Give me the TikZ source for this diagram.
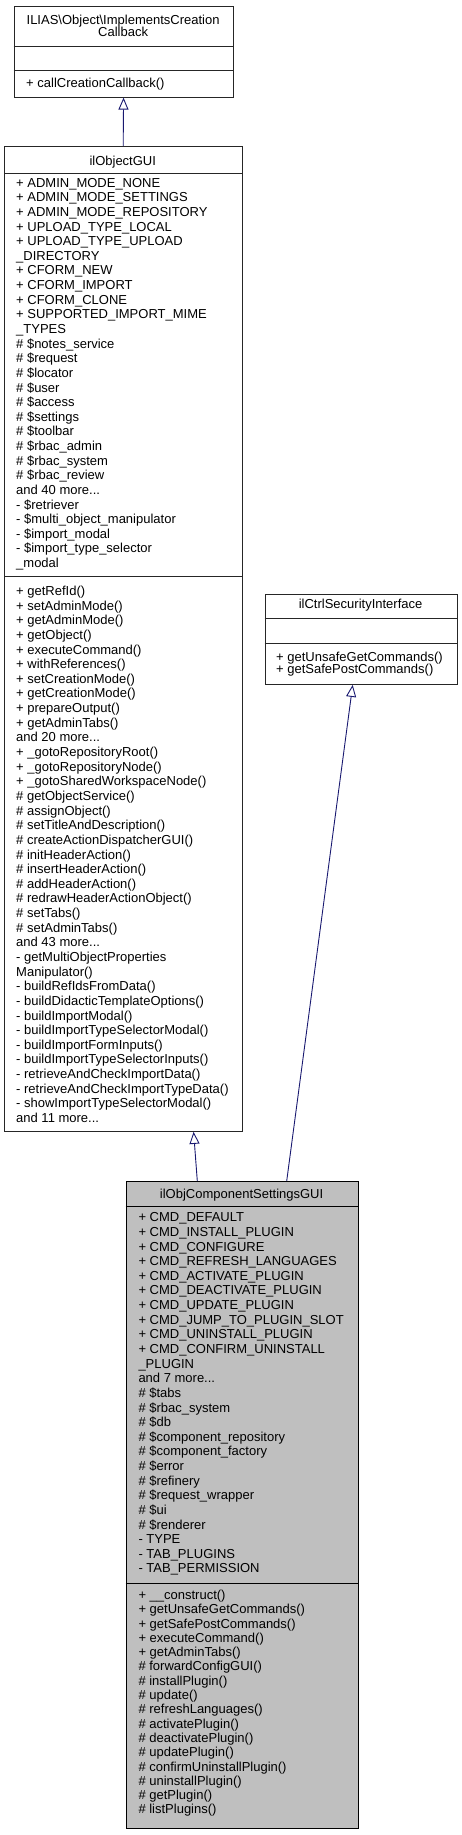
\documentclass[tikz,border=0pt]{standalone}
\usepackage{fontspec}
\setmainfont{Liberation Sans}
\usetikzlibrary{arrows.meta}
\definecolor{edgeblue}{HTML}{191970}
\definecolor{curfill}{HTML}{BFBFBF}
\tikzset{
  x=1pt, y=-1pt,
  classbox/.style={draw=black!85, line width=0.9pt, fill=white, inner sep=0pt, anchor=north west},
  sepline/.style={draw=black!85, line width=0.9pt},
  txt/.style={anchor=base west, inner sep=0pt, font=\fontsize{13}{15}\selectfont},
  ttl/.style={anchor=base, inner sep=0pt, font=\fontsize{13}{15}\selectfont},
  inh/.style={draw=edgeblue, line width=0.9pt, -{Triangle[open, length=12pt, width=10pt, fill=white]}},
}
\newcommand\textlines[5]{%
  \foreach \t [count=\i from 0] in {#5} {\node[txt] (#1-\i) at (#2,{#3+\i*#4}) {\t};}}
\newcommand\more[1]{and #1 more.\kern0pt.\kern0pt.}
\begin{document}
\begin{tikzpicture}
\useasboundingbox (0,0) rectangle (461,1835);

% ---------- ILIAS\Object\ImplementsCreationCallback ----------
\node[classbox, minimum width=219.2pt, minimum height=90.7pt] (A) at (13.5,6) {};
\node[ttl] (A-t1) at (123.1,24.5) {ILIAS\textbackslash Object\textbackslash ImplementsCreation};
\node[ttl] (A-t2) at (123.1,36.8) {Callback};
\draw[sepline] (A.west |- 0,46.7) -- (A.east |- 0,46.7);
\draw[sepline] (A.west |- 0,70.7) -- (A.east |- 0,70.7);
\node[txt] (A-m) at (26,87.8) {+ callCreationCallback()};

% ---------- ilObjectGUI ----------
\node[classbox, minimum width=237.5pt, minimum height=985pt] (obj) at (4,146) {};
\node[ttl] (obj-t) at (122.75,165.2) {ilObjectGUI};
\draw[sepline] (obj.west |- 0,173) -- (obj.east |- 0,173);
\draw[sepline] (obj.west |- 0,576.7) -- (obj.east |- 0,576.7);
\textlines{obja}{16}{187.2}{14.63}{
+ ADMIN\_MODE\_NONE,
+ ADMIN\_MODE\_SETTINGS,
+ ADMIN\_MODE\_REPOSITORY,
+ UPLOAD\_TYPE\_LOCAL,
+ UPLOAD\_TYPE\_UPLOAD,
\_DIRECTORY,
+ CFORM\_NEW,
+ CFORM\_IMPORT,
+ CFORM\_CLONE,
+ SUPPORTED\_IMPORT\_MIME,
\_TYPES,
\# \$notes\_service,
\# \$request,
\# \$locator,
\# \$user,
\# \$access,
\# \$settings,
\# \$toolbar,
\# \$rbac\_admin,
\# \$rbac\_system,
\# \$rbac\_review,
\more{40},
- \$retriever,
- \$multi\_object\_manipulator,
- \$import\_modal,
- \$import\_type\_selector,
\_modal}
\textlines{objm}{16}{595.5}{14.64}{
+ getRefId(),
+ setAdminMode(),
+ getAdminMode(),
+ getObject(),
+ executeCommand(),
+ withReferences(),
+ setCreationMode(),
+ getCreationMode(),
+ prepareOutput(),
+ getAdminTabs(),
\more{20},
+ \_gotoRepositoryRoot(),
+ \_gotoRepositoryNode(),
+ \_gotoSharedWorkspaceNode(),
\# getObjectService(),
\# assignObject(),
\# setTitleAndDescription(),
\# createActionDispatcherGUI(),
\# initHeaderAction(),
\# insertHeaderAction(),
\# addHeaderAction(),
\# redrawHeaderActionObject(),
\# setTabs(),
\# setAdminTabs(),
\more{43},
- getMultiObjectProperties,
Manipulator(),
- buildRefIdsFromData(),
- buildDidacticTemplateOptions(),
- buildImportModal(),
- buildImportTypeSelectorModal(),
- buildImportFormInputs(),
- buildImportTypeSelectorInputs(),
- retrieveAndCheckImportData(),
- retrieveAndCheckImportTypeData(),
- showImportTypeSelectorModal(),
\more{11}}

% ---------- ilCtrlSecurityInterface ----------
\node[classbox, minimum width=192.2pt, minimum height=90pt] (ctrl) at (264.5,594) {};
\node[ttl] (ctrl-t) at (360.6,608.5) {ilCtrlSecurityInterface};
\draw[sepline] (ctrl.west |- 0,618.3) -- (ctrl.east |- 0,618.3);
\draw[sepline] (ctrl.west |- 0,643.3) -- (ctrl.east |- 0,643.3);
\textlines{ctrlm}{276}{661.2}{12.6}{
+ getUnsafeGetCommands(),
+ getSafePostCommands()}

% ---------- ilObjComponentSettingsGUI ----------
\node[classbox, fill=curfill, draw=black, minimum width=232.2pt, minimum height=647pt] (ocs) at (125.5,1181) {};
\node[ttl] (ocs-t) at (241.6,1198.5) {ilObjComponentSettingsGUI};
\draw[sepline, draw=black] (ocs.west |- 0,1206) -- (ocs.east |- 0,1206);
\draw[sepline, draw=black] (ocs.west |- 0,1583) -- (ocs.east |- 0,1583);
\textlines{ocsa}{138.3}{1221.8}{14.63}{
+ CMD\_DEFAULT,
+ CMD\_INSTALL\_PLUGIN,
+ CMD\_CONFIGURE,
+ CMD\_REFRESH\_LANGUAGES,
+ CMD\_ACTIVATE\_PLUGIN,
+ CMD\_DEACTIVATE\_PLUGIN,
+ CMD\_UPDATE\_PLUGIN,
+ CMD\_JUMP\_TO\_PLUGIN\_SLOT,
+ CMD\_UNINSTALL\_PLUGIN,
+ CMD\_CONFIRM\_UNINSTALL,
\_PLUGIN,
\more{7},
\# \$tabs,
\# \$rbac\_system,
\# \$db,
\# \$component\_repository,
\# \$component\_factory,
\# \$error,
\# \$refinery,
\# \$request\_wrapper,
\# \$ui,
\# \$renderer,
- TYPE,
- TAB\_PLUGINS,
- TAB\_PERMISSION}
\textlines{ocsm}{138.3}{1599.5}{14.29}{
+ \_\_construct(),
+ getUnsafeGetCommands(),
+ getSafePostCommands(),
+ executeCommand(),
+ getAdminTabs(),
\# forwardConfigGUI(),
\# installPlugin(),
\# update(),
\# refreshLanguages(),
\# activatePlugin(),
\# deactivatePlugin(),
\# updatePlugin(),
\# confirmUninstallPlugin(),
\# uninstallPlugin(),
\# getPlugin(),
\# listPlugins()}

% ---------- inheritance edges ----------
\draw[inh] (obj.north) -- (A.south);
\draw[inh] ([xshift=71.8pt]ocs.north west) -- ([xshift=-48.8pt]obj.south east);
\draw[inh] ([xshift=161.2pt]ocs.north west) -- ([xshift=88.2pt]ctrl.south west);
\end{tikzpicture}
\end{document}
